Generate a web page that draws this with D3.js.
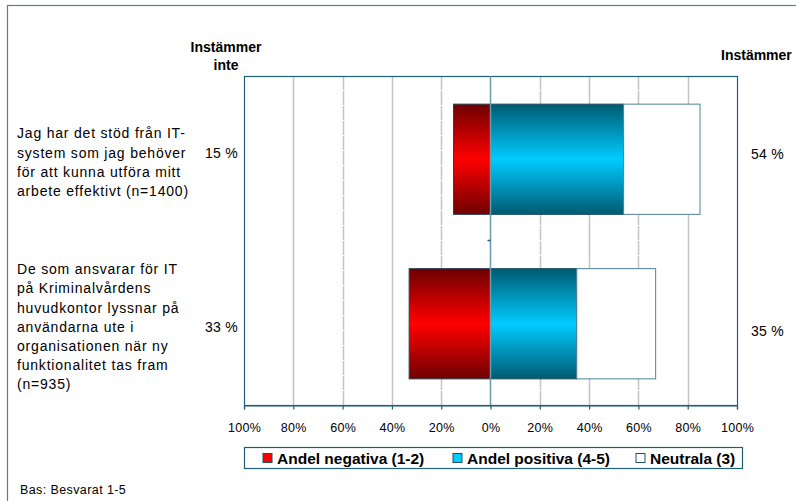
<!DOCTYPE html>
<html lang="sv">
<head>
<meta charset="UTF-8">
<script src="https://d3js.org/d3.v7.min.js"></script>
<title>Instämmer</title>
<style>
  body { margin: 0; background: #fff; }
  svg text { font-family: "Liberation Sans", Arial, sans-serif; fill: #000; }
</style>
</head>
<body>
<svg id="chart" width="796" height="501"></svg>
<script>
// data
const categories = ["q1", "q2"];
const categoryLines = [
  ["Jag har det stöd från IT-", "system som jag behöver", "för att kunna utföra mitt", "arbete effektivt (n=1400)"],
  ["De som ansvarar för IT", "på Kriminalvårdens", "huvudkontor lyssnar på", "användarna ute i", "organisationen när ny", "funktionalitet tas fram", "(n=935)"]
];
const negative = [15, 33];
const positive = [54, 35];
const neutral = [31, 32];
const tickValues = [-100, -80, -60, -40, -20, 0, 20, 40, 60, 80, 100];
const seriesNames = ["Andel negativa (1-2)", "Andel positiva (4-5)", "Neutrala (3)"];

const svg = d3.select("svg#chart");
const plot = {left: 244, right: 737, top: 76, bottom: 405};
const teal = "#1f5f78";

const x = d3.scaleLinear().domain([-100, 100]).range([plot.left, plot.right]);
const y = d3.scaleBand().domain(categories).range([plot.top, plot.bottom]).padding(0);
const barH = y.bandwidth() * 0.67;

// gradients
const defs = svg.append("defs");
function grad(id, edge, mid) {
  const g = defs.append("linearGradient").attr("id", id)
    .attr("x1", 0).attr("y1", 0).attr("x2", 0).attr("y2", 1);
  g.append("stop").attr("offset", "0%").attr("stop-color", edge);
  g.append("stop").attr("offset", "50%").attr("stop-color", mid);
  g.append("stop").attr("offset", "100%").attr("stop-color", edge);
}
grad("gNeg", "#6e0000", "#ff0000");
grad("gPos", "#005a72", "#00ccff");

// outer frame
svg.append("rect")
  .attr("x", 7.5).attr("y", 5.5).attr("width", 800).attr("height", 520)
  .attr("fill", "none").attr("stroke", "#4f8396").attr("stroke-width", 1.2);

// gridlines (Excel draws every other one a bit broken)
svg.append("g").selectAll("line")
  .data(tickValues.filter(d => d !== -100 && d !== 100 && d !== 0))
  .join("line")
  .attr("x1", d => Math.round(x(d)) + 0.5).attr("x2", d => Math.round(x(d)) + 0.5)
  .attr("y1", plot.top).attr("y2", plot.bottom)
  .attr("stroke", "#c4c4c4").attr("stroke-width", 1.5)
  .attr("stroke-dasharray", d => (Math.abs(d) / 20) % 2 === 0 ? "none" : "14,1");

// plot border
svg.append("rect")
  .attr("x", plot.left + 0.5).attr("y", plot.top + 0.5)
  .attr("width", plot.right - plot.left).attr("height", plot.bottom - plot.top)
  .attr("fill", "none").attr("stroke", teal).attr("stroke-width", 1.2);

// bars
const rows = categories.map((c, i) => ({c, neg: negative[i], pos: positive[i], neu: neutral[i]}));
const bars = svg.append("g");
const barY = d => y(d.c) + (y.bandwidth() - barH) / 2 + 1;
bars.selectAll("rect.neg").data(rows).join("rect").attr("class", "neg")
  .attr("x", d => x(-d.neg)).attr("y", barY)
  .attr("width", d => x(0) - x(-d.neg)).attr("height", barH)
  .attr("fill", "url(#gNeg)").attr("stroke", "#2a3f55").attr("stroke-width", 1);
bars.selectAll("rect.pos").data(rows).join("rect").attr("class", "pos")
  .attr("x", x(0)).attr("y", barY)
  .attr("width", d => x(d.pos) - x(0)).attr("height", barH)
  .attr("fill", "url(#gPos)").attr("stroke", "#1d4f66").attr("stroke-width", 1);
bars.selectAll("rect.neu").data(rows).join("rect").attr("class", "neu")
  .attr("x", d => x(d.pos)).attr("y", barY)
  .attr("width", d => x(d.pos + d.neu) - x(d.pos)).attr("height", barH)
  .attr("fill", "#fff").attr("stroke", "#4f8396").attr("stroke-width", 1);

// zero line
svg.append("line")
  .attr("x1", x(0)).attr("x2", x(0)).attr("y1", plot.top).attr("y2", plot.bottom)
  .attr("stroke", "#6a9aaa").attr("stroke-width", 1.5);
// category separator tick
svg.append("g").selectAll("line")
  .data(categories.slice(1))
  .join("line")
  .attr("x1", x(0) - 3).attr("x2", x(0))
  .attr("y1", d => y(d)).attr("y2", d => y(d))
  .attr("stroke", teal).attr("stroke-width", 1.5);

// bottom axis
const axis = svg.append("g")
  .attr("transform", `translate(0,${plot.bottom + 0.5})`)
  .call(d3.axisBottom(x).tickValues(tickValues).tickFormat(d => Math.abs(d) + "%")
    .tickSize(4).tickPadding(14));
axis.select(".domain").attr("stroke", teal).attr("stroke-width", 1.2);
axis.selectAll(".tick line").attr("stroke", teal).attr("stroke-width", 1.2);
axis.selectAll(".tick text").attr("font-size", 12.5).style("font-family", "Liberation Sans, Arial, sans-serif")
  .style("letter-spacing", "0.3px");

// category labels
const lineH = 19.2;
categoryLines.forEach((lines, i) => {
  const cy = y(categories[i]) + y.bandwidth() / 2;
  const t = svg.append("text").attr("font-size", 14).style("letter-spacing", "0.8px");
  lines.forEach((ln, j) => {
    t.append("tspan").attr("x", 17)
      .attr("y", cy + (j - (lines.length - 1) / 2) * lineH + 9)
      .text(ln);
  });
});

// value labels
const leftShift = [0, 9], rightShift = [1, 13];
svg.append("g").selectAll("text").data(rows).join("text")
  .attr("x", 238).attr("y", (d, i) => y(d.c) + y.bandwidth() / 2 + leftShift[i])
  .attr("text-anchor", "end").attr("font-size", 14).style("letter-spacing", "0.3px")
  .text(d => d.neg + " %");
svg.append("g").selectAll("text").data(rows).join("text")
  .attr("x", 751).attr("y", (d, i) => y(d.c) + y.bandwidth() / 2 + rightShift[i])
  .attr("font-size", 14).style("letter-spacing", "0.3px")
  .text(d => d.pos + " %");

// headers
svg.append("text").attr("x", 226).attr("y", 52).attr("text-anchor", "middle")
  .attr("font-size", 14).attr("font-weight", "bold").text("Instämmer");
svg.append("text").attr("x", 226).attr("y", 70).attr("text-anchor", "middle")
  .attr("font-size", 14).attr("font-weight", "bold").text("inte");
svg.append("text").attr("x", 721).attr("y", 60)
  .attr("font-size", 14).attr("font-weight", "bold").text("Instämmer");

// legend
svg.append("rect").attr("x", 244.5).attr("y", 447.5).attr("width", 498).attr("height", 21)
  .attr("fill", "#fff").attr("stroke", teal).attr("stroke-width", 1.2);
const legendX = [263, 453, 636];
const legendFill = ["#ff0000", "#00ccff", "#ffffff"];
const lg = svg.append("g").selectAll("g").data(seriesNames).join("g")
  .attr("transform", (d, i) => `translate(${legendX[i]},458)`);
lg.append("rect").attr("x", 0).attr("y", -4.5).attr("width", 9).attr("height", 9)
  .attr("fill", (d, i) => legendFill[i]).attr("stroke", "#1d4f66").attr("stroke-width", 1);
lg.append("text").attr("x", 14).attr("y", 6).attr("font-size", 15.5).attr("font-weight", "bold")
  .text(d => d);

// footnote
svg.append("text").attr("x", 20).attr("y", 494).attr("font-size", 12.5)
  .style("letter-spacing", "0.4px").text("Bas: Besvarat 1-5");
</script>
</body>
</html>
